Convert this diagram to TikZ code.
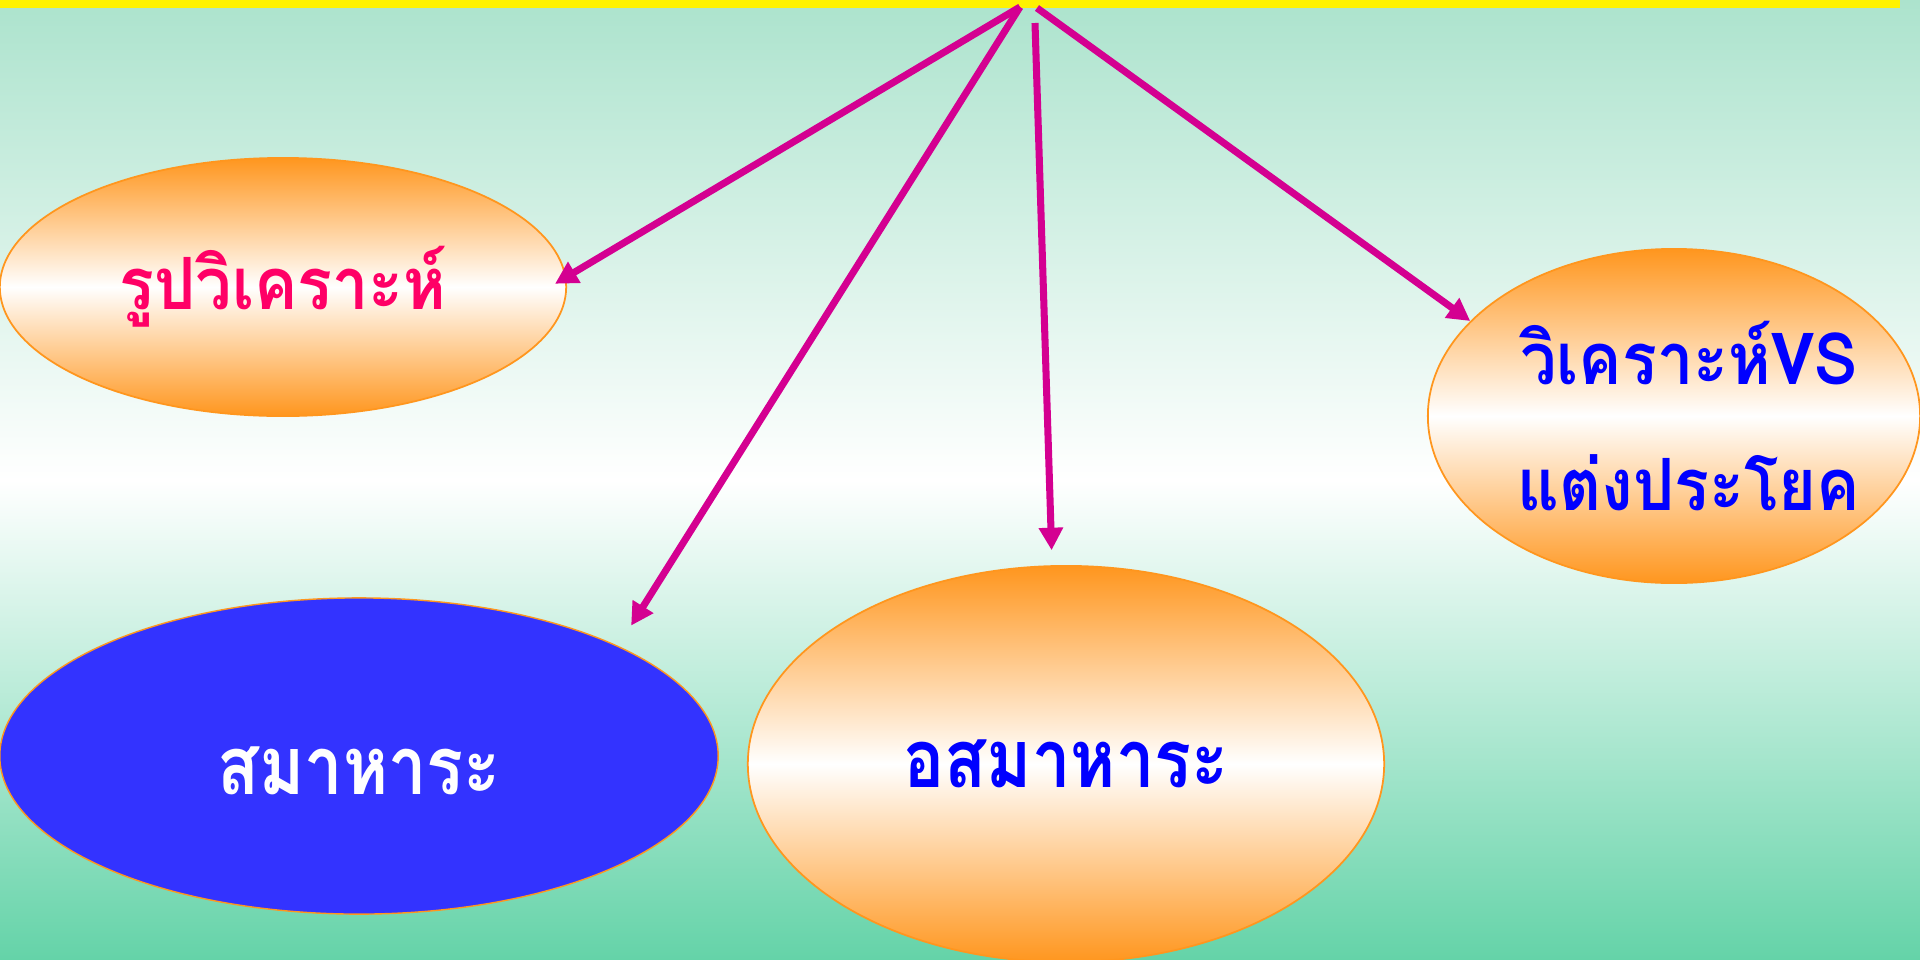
\documentclass[tikz,border=0pt]{standalone}
\usepackage{fontspec}
\usepackage{tikz}
\usetikzlibrary{shapes.geometric,arrows.meta}
\newfontfamily\thainarrow[Script=Thai,FakeStretch=0.9]{Loma}
\newfontfamily\thaithin[Script=Thai,FakeStretch=0.85]{Loma}
\definecolor{mintTop}{RGB}{172,227,205}
\definecolor{mintBot}{RGB}{100,211,168}
\definecolor{ballOrange}{RGB}{255,150,30}
\definecolor{arrowMag}{RGB}{212,0,145}
\definecolor{rupaPink}{RGB}{255,0,102}
\definecolor{samaBlue}{RGB}{51,51,255}

\begin{document}
\begin{tikzpicture}[x=0.01cm,y=-0.01cm,
    ball/.style={ellipse,draw=ballOrange,line width=0.5pt,inner xsep=-0.5cm,inner ysep=0pt,
      top color=ballOrange,bottom color=ballOrange,middle color=white},
    word/.style={font=\thainarrow\bfseries\fontsize{20.5}{36}\selectfont},
    tallword/.style={font=\thaithin\bfseries\fontsize{23}{30}\selectfont},
    link/.style={arrowMag,line width=2pt,-{Triangle[length=6.4pt,width=6.6pt]}}]
      \useasboundingbox (0,0) rectangle (1920,960);
      % background
      \fill [top color=mintTop,bottom color=mintBot,middle color=white] (0,0) rectangle (1920,960);
      \fill [yellow] (0,0) rectangle (1900,8);
      % ellipses
      \node [ball,minimum width=5.66cm,minimum height=2.58cm,word,text=rupaPink] (rupa) at (283,287) {รูปวิเคราะห์};
      \node [ball,minimum width=4.92cm,minimum height=3.34cm,word,text=blue,align=center] (vs) at (1674,416)
        {\hspace*{0.3cm}วิเคราะห์VS\\\hspace*{0.3cm}แต่งประโยค};
      \node [ellipse,draw=ballOrange,fill=samaBlue,inner xsep=-0.5cm,inner ysep=0pt,minimum width=7.18cm,minimum height=3.16cm,tallword,text=white] (sama) at (359,756)
        {\raisebox{0pt}[\dimexpr\height+0.3cm][\depth]{สมาหาระ}};
      \node [ball,minimum width=6.36cm,minimum height=3.96cm,tallword,text=blue] (asama) at (1066,764) {อสมาหาระ};
      % arrows
      \coordinate (apexL) at (1020,7);
      \coordinate (apexM) at (1035,23);
      \coordinate (apexR) at (1037,8);
      \draw [link,shorten >=-0.13cm] (apexL) -- (rupa.2);
      \draw [link,shorten >=0.24cm] (apexL) -- (sama.23);
      \draw [link,shorten >=0.15cm] (apexM) -- (asama.94);
      \draw [link] (apexR) -- (vs.155);
\end{tikzpicture}
\end{document}
